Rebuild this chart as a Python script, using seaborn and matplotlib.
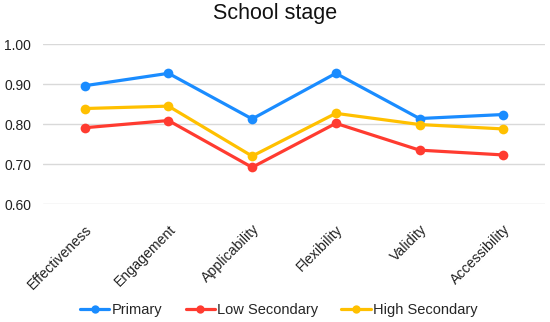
import matplotlib
matplotlib.use("Agg")
import matplotlib.pyplot as plt
import seaborn as sns
import pandas as pd

categories = ["Effectiveness", "Engagement", "Applicability", "Flexibility", "Validity", "Accessibility"]
primary = [0.896, 0.927, 0.813, 0.927, 0.814, 0.824]
low_secondary = [0.791, 0.809, 0.692, 0.802, 0.735, 0.723]
high_secondary = [0.839, 0.845, 0.720, 0.827, 0.799, 0.788]
series_names = ["Primary", "Low Secondary", "High Secondary"]
colors = ["#1A8CFF", "#FF3B30", "#FFC000"]
yticks = [0.60, 0.70, 0.80, 0.90, 1.00]

rows = []
for name, vals in zip(series_names, [primary, low_secondary, high_secondary]):
    for i, (c, v) in enumerate(zip(categories, vals)):
        rows.append({"idx": i, "Category": c, "Value": v, "Series": name})
df = pd.DataFrame(rows)

sns.set_theme(style="white")
plt.rcParams["font.family"] = ["Liberation Sans", "DejaVu Sans"]

fig = plt.figure(figsize=(5.5, 3.22), dpi=100)
ax = fig.add_axes([0.078, 0.366, 0.913, 0.497])

sns.lineplot(data=df, x="idx", y="Value", hue="Series", hue_order=series_names,
             palette=colors, marker="o", markersize=7, markeredgewidth=0,
             linewidth=2.3, ax=ax, legend=True)

ax.set_xlim(-0.5, len(categories) - 0.5)
ax.set_ylim(0.6, 1.0)
ax.set_yticks(yticks)
ax.set_yticklabels([f"{t:.2f}" for t in yticks], fontsize=10, color="#222222")
ax.set_xticks(range(len(categories)))
ax.set_xticklabels(categories, rotation=45, ha="right", rotation_mode="anchor",
                   fontsize=10.2, color="#222222")
ax.tick_params(axis="x", length=0, pad=13)
ax.tick_params(axis="y", length=0, pad=8.5)
ax.grid(axis="y", color="#D9D9D9", linewidth=1)
ax.set_axisbelow(True)
for s in ax.spines.values():
    s.set_visible(False)
ax.set_xlabel("")
ax.set_ylabel("")
fig.suptitle("School stage", y=0.99, fontsize=15.5, color="#111111")

handles, labels = ax.get_legend_handles_labels()
for h in handles:
    h.set_markersize(6)
ax.legend(handles, labels, loc="lower center", bbox_to_anchor=(0.507, -0.025), ncol=3,
          frameon=False, fontsize=10.5, handlelength=2.0, handletextpad=0.15,
          columnspacing=1.6, bbox_transform=fig.transFigure)

fig.savefig("out.png", dpi=100)
